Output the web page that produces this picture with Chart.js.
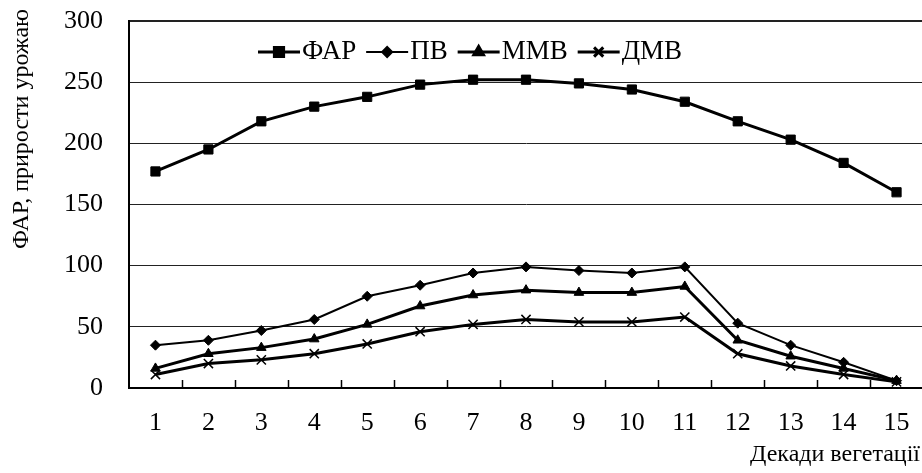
<!DOCTYPE html>
<html>
<head>
<meta charset="utf-8">
<script src="https://cdn.jsdelivr.net/npm/chart.js@4.4.0/dist/chart.umd.min.js"></script>
<style>
  html, body { margin: 0; padding: 0; background: #fff; overflow: hidden; }
  canvas { display: block; }
</style>
</head>
<body>
<!-- a little wider than the window: Chart.js keeps ~9px free on the right -->
<canvas id="chart" width="931" height="473"></canvas>
<script>
// decades of vegetation and the four series
const decades = ['1', '2', '3', '4', '5', '6', '7', '8', '9', '10', '11', '12', '13', '14', '15'];
const farValues = [177, 195, 218, 230, 238, 248, 252, 252, 249, 244, 234, 218, 203, 184, 160];
const pvValues = [35, 39, 47, 56, 75, 84, 94, 99, 96, 94, 99, 53, 35, 21, 6];
const mmvValues = [16, 28, 33, 40, 52, 67, 76, 80, 78, 78, 83, 39, 26, 16, 6];
const dmvValues = [11, 20, 23, 28, 36, 46, 52, 56, 54, 54, 58, 28, 18, 11, 5];
const seriesNames = ['ФАР', 'ПВ', 'ММВ', 'ДМВ'];
const yTicks = [0, 50, 100, 150, 200, 250, 300];

const serif = "'Liberation Serif', 'Times New Roman', serif";

// legend drawn inside the plot, as in the original
const innerLegend = {
  id: 'innerLegend',
  afterDatasetsDraw(chart) {
    const ctx = chart.ctx;
    let x = 258;
    const y = 52;
    ctx.save();
    ctx.font = '27px ' + serif;
    ctx.textBaseline = 'middle';
    ctx.textAlign = 'left';
    chart.data.datasets.forEach(ds => {
      ctx.strokeStyle = '#000';
      ctx.lineWidth = ds.borderWidth;
      ctx.beginPath();
      ctx.moveTo(x, y);
      ctx.lineTo(x + 42, y);
      ctx.stroke();
      ctx.fillStyle = '#000';
      Chart.helpers.drawPoint(ctx, {
        pointStyle: ds.pointStyle,
        radius: ds.pointRadius,
        borderWidth: ds.pointBorderWidth,
        rotation: 0
      }, x + 21, y);
      ctx.fillStyle = '#000';
      ctx.fillText(ds.label, x + 44, y);
      x += 44 + ctx.measureText(ds.label).width + 10;
    });
    ctx.restore();
  }
};

// small tick marks between categories pointing up, plus the two axis titles
const innerTicks = {
  id: 'innerTicks',
  afterDraw(chart) {
    const xs = chart.scales.x;
    const ctx = chart.ctx;
    const bottom = chart.chartArea.bottom;
    const step = xs.getPixelForValue(1) - xs.getPixelForValue(0);
    ctx.save();
    ctx.strokeStyle = '#000';
    ctx.lineWidth = 1.5;
    for (let i = 0; i < decades.length - 1; i++) {
      const px = Math.round(xs.getPixelForValue(i) + step / 2) + 0.5;
      ctx.beginPath();
      ctx.moveTo(px, bottom);
      ctx.lineTo(px, bottom - 8);
      ctx.stroke();
    }
    ctx.font = '24px ' + serif;
    ctx.fillStyle = '#000';
    ctx.textBaseline = 'middle';
    // x axis title, right aligned at the window edge
    ctx.textAlign = 'right';
    ctx.fillText('Декади вегетації', 920, 455);
    // y axis title, placed high like the original
    ctx.translate(22, 129);
    ctx.rotate(-Math.PI / 2);
    ctx.textAlign = 'center';
    ctx.fillText('ФАР, прирости урожаю', 0, 0);
    ctx.restore();
  }
};

const ctx = document.getElementById('chart').getContext('2d');
const chart = new Chart(ctx, {
  type: 'line',
  data: {
    labels: decades,
    datasets: [
      {
        label: seriesNames[0], data: farValues,
        borderColor: '#000', backgroundColor: '#000', borderWidth: 3,
        pointStyle: 'rect', pointRadius: 6.5, pointBorderWidth: 1, pointBackgroundColor: '#000'
      },
      {
        label: seriesNames[1], data: pvValues,
        borderColor: '#000', backgroundColor: '#000', borderWidth: 2,
        pointStyle: 'rectRot', pointRadius: 5, pointBorderWidth: 1, pointBackgroundColor: '#000'
      },
      {
        label: seriesNames[2], data: mmvValues,
        borderColor: '#000', backgroundColor: '#000', borderWidth: 3,
        pointStyle: 'triangle', pointRadius: 5.5, pointBorderWidth: 1, pointBackgroundColor: '#000'
      },
      {
        label: seriesNames[3], data: dmvValues,
        borderColor: '#000', backgroundColor: '#000', borderWidth: 3,
        pointStyle: 'crossRot', pointRadius: 6.5, pointBorderWidth: 1.5, pointBackgroundColor: '#000'
      }
    ]
  },
  options: {
    responsive: false,
    animation: false,
    layout: { padding: { top: 21, right: 0, left: 0, bottom: 0 } },
    plugins: {
      legend: { display: false },
      tooltip: { enabled: false }
    },
    elements: { line: { tension: 0 } },
    scales: {
      x: {
        offset: true,
        grid: { display: false },
        border: { display: true, color: '#000', width: 2 },
        ticks: {
          color: '#000', padding: 0, maxRotation: 0, autoSkip: false,
          font: { family: serif, size: 26, lineHeight: 2.08 }
        },
        afterFit(scale) {
          scale.height = 85;
        }
      },
      y: {
        min: 0, max: 300,
        afterBuildTicks(scale) { scale.ticks = yTicks.map(v => ({ value: v })); },
        grid: {
          drawTicks: false,
          color: '#222',
          lineWidth: c => (c.tick && c.tick.value === 300 ? 2 : 1)
        },
        border: { display: true, color: '#000', width: 2 },
        ticks: {
          color: '#000', padding: 26,
          font: { family: serif, size: 26 }
        },
        afterFit(scale) {
          scale.width = 129;
          scale.paddingTop = 0;
          scale.paddingBottom = 0;
        }
      }
    }
  },
  plugins: [innerLegend, innerTicks]
});
</script>
</body>
</html>
